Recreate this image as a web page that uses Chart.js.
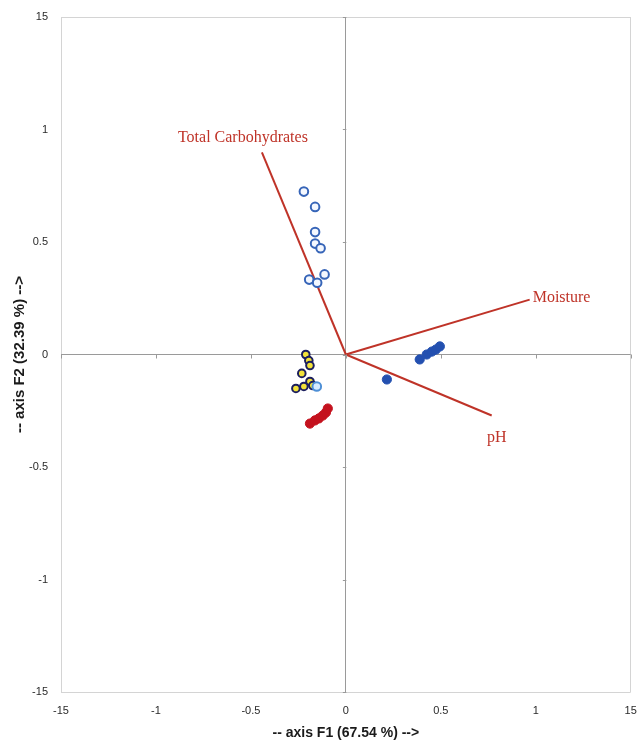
<!DOCTYPE html>
<html>
<head>
<meta charset="utf-8">
<script src="https://cdn.jsdelivr.net/npm/chart.js@4/dist/chart.umd.min.js"></script>
<style>
  html, body { margin: 0; padding: 0; background: #ffffff; }
  #wrap { width: 637px; height: 740px; position: relative; }
</style>
</head>
<body>
<div id="wrap"><canvas id="c" width="637" height="740"></canvas></div>
<script>
// Axis ticks and their printed labels
const tickValues = [-1.5, -1, -0.5, 0, 0.5, 1, 1.5];
const tickLabels = ['-15', '-1', '-0.5', '0', '0.5', '1', '15'];
const xTitle = '-- axis F1 (67.54 %) -->';
const yTitle = '-- axis F2 (32.39 %) -->';

// Observations (F1, F2)
const openBlueX = [-0.221, -0.162, -0.162, -0.162, -0.133, -0.112, -0.193, -0.151];
const openBlueY = [0.724, 0.656, 0.544, 0.493, 0.472, 0.356, 0.333, 0.319];

const yellowX = [-0.211, -0.195, -0.189, -0.232, -0.189, -0.221, -0.263, -0.174];
const yellowY = [0.000, -0.027, -0.049, -0.084, -0.120, -0.142, -0.151, -0.138];

const lightBlueX = [-0.153];
const lightBlueY = [-0.142];

const redX = [-0.189, -0.163, -0.142, -0.121, -0.105, -0.095];
const redY = [-0.307, -0.293, -0.284, -0.271, -0.258, -0.240];

const blueX = [0.216, 0.389, 0.426, 0.453, 0.474, 0.495];
const blueY = [-0.111, -0.022, 0.000, 0.013, 0.022, 0.036];

// Variable loadings (vectors from the origin)
const vecNames = ['Total Carbohydrates', 'Moisture', 'pH'];
const vecX = [-0.442, 0.968, 0.768];
const vecY = [0.898, 0.244, -0.271];

// Label placement relative to each vector tip (pixels)
const vecLabelStyle = [
  { dx: -19, dy: -15, align: 'center' },
  { dx: 3, dy: -2, align: 'left' },
  { dx: 5, dy: 22, align: 'center' }
];

const pts = (xs, ys) => xs.map((x, i) => ({ x, y: ys[i] }));

const vecColor = '#bf3328';
const datasets = [
  { label: 'g1', data: pts(openBlueX, openBlueY), pointRadius: 4.3, pointBorderWidth: 2,
    pointBackgroundColor: '#f4f8ff', pointBorderColor: '#3765b8' },
  { label: 'g2', data: pts(lightBlueX, lightBlueY), pointRadius: 4.3, pointBorderWidth: 2,
    pointBackgroundColor: '#d6ecff', pointBorderColor: '#4d8fd6' },
  { label: 'g3', data: pts(yellowX, yellowY), pointRadius: 3.8, pointBorderWidth: 2,
    pointBackgroundColor: '#f2e23a', pointBorderColor: '#1c1f5e' },
  { label: 'g4', data: pts(redX, redY), pointRadius: 4.6, pointBorderWidth: 1,
    pointBackgroundColor: '#c4121e', pointBorderColor: '#c4121e' },
  { label: 'g5', data: pts(blueX, blueY), pointRadius: 4.6, pointBorderWidth: 1,
    pointBackgroundColor: '#2350b0', pointBorderColor: '#2350b0' }
];
vecNames.forEach((name, i) => {
  datasets.push({
    label: name, data: [{ x: 0, y: 0 }, { x: vecX[i], y: vecY[i] }],
    showLine: true, borderColor: vecColor, borderWidth: 2, pointRadius: 0, fill: false
  });
});

const tickText = (v) => {
  const i = tickValues.findIndex(t => Math.abs(t - v) < 1e-9);
  return i >= 0 ? tickLabels[i] : '';
};
const gridColor = (ctx) => {
  const v = ctx.tick.value;
  if (Math.abs(v) < 1e-9) return '#9a9a9a';
  if (Math.abs(Math.abs(v) - 1.5) < 1e-9) return '#d4d4d4';
  return 'rgba(0,0,0,0)';
};

// Small tick marks along the zero axes, and the vector labels
const overlay = {
  id: 'overlay',
  afterDatasetsDraw(chart) {
    const { ctx, scales: { x, y } } = chart;
    const x0 = x.getPixelForValue(0), y0 = y.getPixelForValue(0);
    ctx.save();
    ctx.strokeStyle = '#9a9a9a';
    ctx.lineWidth = 1;
    tickValues.forEach(v => {
      const py = Math.round(y.getPixelForValue(v)) + 0.5;
      ctx.beginPath(); ctx.moveTo(x0 - 3, py); ctx.lineTo(x0 + 0.5, py); ctx.stroke();
      const px = Math.round(x.getPixelForValue(v)) + 0.5;
      ctx.beginPath(); ctx.moveTo(px, y0); ctx.lineTo(px, y0 + 4); ctx.stroke();
    });
    ctx.fillStyle = vecColor;
    ctx.font = '16px "Liberation Serif", "Times New Roman", serif';
    ctx.textBaseline = 'middle';
    vecNames.forEach((name, i) => {
      const s = vecLabelStyle[i];
      ctx.textAlign = s.align;
      ctx.fillText(name, x.getPixelForValue(vecX[i]) + s.dx, y.getPixelForValue(vecY[i]) + s.dy);
    });
    ctx.restore();
  }
};

const tickFont = { family: '"Liberation Sans", Arial, sans-serif', size: 11 };
const xTitleFont = { family: '"Liberation Sans", Arial, sans-serif', size: 14, weight: 'bold' };
const yTitleFont = { family: '"Liberation Sans", Arial, sans-serif', size: 15, weight: 'bold' };

new Chart(document.getElementById('c'), {
  type: 'scatter',
  data: { datasets },
  options: {
    responsive: false,
    animation: false,
    layout: { padding: { top: 17, right: 6, bottom: 0, left: 0 } },
    plugins: { legend: { display: false }, tooltip: { enabled: false } },
    scales: {
      x: {
        type: 'linear', min: -1.5, max: 1.5,
        afterBuildTicks: (s) => { s.ticks = tickValues.map(v => ({ value: v })); },
        afterFit: (s) => { s.height = 48; s.paddingLeft = 0; s.paddingRight = 0; },
        ticks: { callback: tickText, font: tickFont, color: '#2a2a2a', padding: 12, maxRotation: 0, autoSkip: false },
        grid: { color: gridColor, drawTicks: false, lineWidth: 1 },
        border: { display: false },
        title: { display: true, text: xTitle, font: xTitleFont, color: '#1a1a1a', padding: { top: 0, bottom: -2 } }
      },
      y: {
        type: 'linear', min: -1.5, max: 1.5,
        afterBuildTicks: (s) => { s.ticks = tickValues.map(v => ({ value: v })); },
        afterFit: (s) => { s.width = 61; s.paddingTop = 0; s.paddingBottom = 0; },
        ticks: { callback: tickText, font: tickFont, color: '#2a2a2a', padding: 13, autoSkip: false },
        grid: { color: gridColor, drawTicks: false, lineWidth: 1 },
        border: { display: false },
        title: { display: true, text: yTitle, font: yTitleFont, color: '#1a1a1a', padding: { top: 11, bottom: 0 } }
      }
    }
  },
  plugins: [overlay]
});
</script>
</body>
</html>
